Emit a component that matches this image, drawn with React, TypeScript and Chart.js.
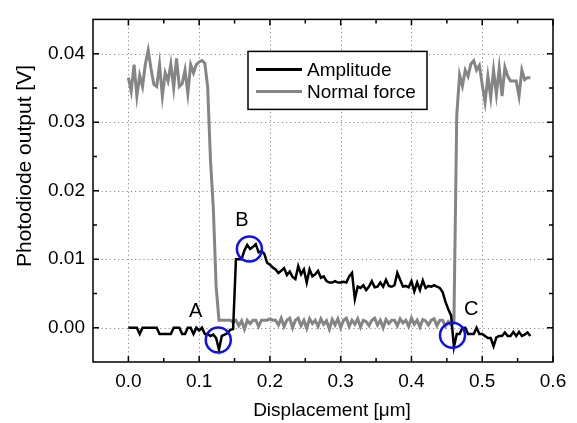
import React, { useEffect, useRef } from "react";
import { Chart, registerables } from "chart.js";
Chart.register(...registerables);

const displacement = [
  0.000, 0.004, 0.008, 0.012, 0.016, 0.020, 0.024, 0.028, 0.032, 0.036,
  0.040, 0.044, 0.048, 0.052, 0.056, 0.060, 0.064, 0.068, 0.072, 0.076,
  0.080, 0.084, 0.088, 0.092, 0.096, 0.100, 0.104, 0.108, 0.112, 0.116,
  0.120, 0.124, 0.128, 0.132, 0.136, 0.140, 0.144, 0.148, 0.152, 0.156,
  0.160, 0.164, 0.168, 0.172, 0.176, 0.180, 0.184, 0.188, 0.192, 0.196,
  0.200, 0.204, 0.208, 0.212, 0.216, 0.220, 0.224, 0.228, 0.232, 0.236,
  0.240, 0.244, 0.248, 0.252, 0.256, 0.260, 0.264, 0.268, 0.272, 0.276,
  0.280, 0.284, 0.288, 0.292, 0.296, 0.300, 0.304, 0.308, 0.312, 0.316,
  0.320, 0.324, 0.328, 0.332, 0.336, 0.340, 0.344, 0.348, 0.352, 0.356,
  0.360, 0.364, 0.368, 0.372, 0.376, 0.380, 0.384, 0.388, 0.392, 0.396,
  0.400, 0.404, 0.408, 0.412, 0.416, 0.420, 0.424, 0.428, 0.432, 0.436,
  0.440, 0.444, 0.448, 0.452, 0.456, 0.460, 0.464, 0.468, 0.472, 0.476,
  0.480, 0.484, 0.488, 0.492, 0.496, 0.500, 0.504, 0.508, 0.512, 0.516,
  0.520, 0.524, 0.528, 0.532, 0.536, 0.540, 0.544, 0.548, 0.552, 0.556,
  0.560, 0.564, 0.568,
];

const amplitude = [
  0, 0, 0, 0, -0.0009, 0, 0, 0, 0, 0,
  0, -0.0009, -0.0009, -0.0009, -0.0009, -0.0009, 0, 0, 0, -0.0009,
  -0.0009, 0, 0, -0.0009, 0, -0.0004, 0, -0.0009, -0.0009, -0.0012,
  -0.0010, -0.0015, -0.0032, -0.0012, -0.0010, -0.0008, -0.0003, -0.0002, 0.0100, 0.0100,
  0.0100, 0.0113, 0.0121, 0.0115, 0.0118, 0.0122, 0.0110, 0.0112, 0.0108, 0.0095,
  0.0092, 0.0088, 0.0085, 0.0080, 0.0083, 0.0087, 0.0077, 0.0082, 0.0074, 0.0071,
  0.0090, 0.0078, 0.0085, 0.0066, 0.0085, 0.0075, 0.0078, 0.0083, 0.0073, 0.0075,
  0.0068, 0.0066, 0.0066, 0.0068, 0.0066, 0.0066, 0.0067, 0.0066, 0.0075, 0.0080,
  0.0042, 0.0060, 0.0058, 0.0062, 0.0055, 0.0060, 0.0068, 0.0059, 0.0060, 0.0066,
  0.0060, 0.0070, 0.0061, 0.0060, 0.0062, 0.0080, 0.0070, 0.0060, 0.0061, 0.0059,
  0.0068, 0.0053, 0.0066, 0.0055, 0.0069, 0.0058, 0.0061, 0.0060, 0.0062, 0.0060,
  0.0058, 0.0052, 0.0038, 0.0027, 0.0018, -0.0028, -0.0009, -0.0009, 0, 0,
  -0.0009, -0.0009, -0.0009, 0, -0.0009, -0.0009, -0.0012, -0.0015, -0.0015, -0.0027,
  -0.0014, -0.0012, -0.0012, -0.0007, -0.0012, -0.0012, -0.0006, -0.0012, -0.0006, -0.0012,
  -0.0010, -0.0007, -0.0012,
];

const normalForce = [
  0.0365, 0.0345, 0.0384, 0.0338, 0.0368, 0.0352, 0.0385, 0.0405, 0.0378, 0.0355,
  0.0352, 0.0384, 0.0338, 0.0372, 0.0360, 0.0385, 0.0350, 0.0393, 0.0352, 0.0356,
  0.0376, 0.0342, 0.0384, 0.0372, 0.0384, 0.0388, 0.0390, 0.0386, 0.0352, 0.0245,
  0.0175, 0.0060, 0.0011, 0.0011, 0.0011, 0.0011, 0.0011, 0.0008, 0.0011, 0.0003,
  0.0010, -0.0002, 0.0011, 0.0006, 0.0011, 0.0011, 0.0002, 0.0011, 0.0011, 0.0011,
  0.0013, 0.0011, 0.0011, 0.0004, 0.0014, 0.0002, 0.0011, 0.0014, 0.0000, 0.0011,
  0.0014, 0.0003, 0.0011, -0.0001, 0.0013, 0.0006, 0.0011, 0.0002, 0.0013, 0.0005,
  0.0010, -0.0002, 0.0012, 0.0004, 0.0013, 0.0000, 0.0011, 0.0014, 0.0002, 0.0011,
  0.0005, 0.0013, 0.0001, 0.0011, 0.0009, 0.0003, 0.0011, 0.0014, 0.0004, 0.0011,
  0.0000, 0.0012, 0.0006, 0.0011, 0.0011, 0.0003, 0.0013, 0.0007, 0.0011, 0.0002,
  0.0014, 0.0005, 0.0011, 0.0001, 0.0012, 0.0010, 0.0004, 0.0011, 0.0013, 0.0003,
  0.0011, 0.0011, 0.0002, 0.0009, 0.0004, 0.0008, 0.0310, 0.0369, 0.0353, 0.0376,
  0.0367, 0.0385, 0.0390, 0.0376, 0.0383, 0.0355, 0.0329, 0.0367, 0.0336, 0.0376,
  0.0341, 0.0379, 0.0338, 0.0380, 0.0367, 0.0360, 0.0360, 0.0360, 0.0338, 0.0376,
  0.0362, 0.0365, 0.0365,
];

const seriesNames = ["Amplitude", "Normal force"];
const xTickValues = [0, 0.1, 0.2, 0.3, 0.4, 0.5, 0.6];
const xTickLabels = ["0.0", "0.1", "0.2", "0.3", "0.4", "0.5", "0.6"];
const yTickValues = [0, 0.01, 0.02, 0.03, 0.04];
const yTickLabels = ["0.00", "0.01", "0.02", "0.03", "0.04"];
const xMinorTicks = [0.05, 0.15, 0.25, 0.35, 0.45, 0.55];
const yMinorTicks = [0.005, 0.015, 0.025, 0.035];

const markerLabels = ["A", "B", "C"];
const markerX = [0.127, 0.171, 0.458];
const markerY = [-0.0018, 0.0115, -0.0011];
const letterX = [0.095, 0.1605, 0.4845];
const letterY = [0.0024, 0.0157, 0.0027];

const FONT = "'Liberation Sans', Arial, sans-serif";
const GRAY = "#858585";

const overlay = {
  id: "overlay",
  beforeDatasetsDraw(chart: any) {
    const { ctx, chartArea: a, scales } = chart;
    const x = scales.x, y = scales.y;
    ctx.save();
    ctx.strokeStyle = "#8a8a8a";
    ctx.lineWidth = 1;
    ctx.setLineDash([1.2, 3]);
    xTickValues.forEach((v) => {
      const px = Math.round(x.getPixelForValue(v)) + 0.5;
      if (px > a.right - 2) return;
      ctx.beginPath();
      ctx.moveTo(px, a.top);
      ctx.lineTo(px, a.bottom);
      ctx.stroke();
    });
    yTickValues.forEach((v) => {
      const py = Math.round(y.getPixelForValue(v)) + 0.5;
      ctx.beginPath();
      ctx.moveTo(a.left, py);
      ctx.lineTo(a.right, py);
      ctx.stroke();
    });
    ctx.restore();
  },
  afterDraw(chart: any) {
    const { ctx, chartArea: a, scales } = chart;
    const x = scales.x, y = scales.y;
    ctx.save();
    ctx.setLineDash([]);
    ctx.strokeStyle = "#000";
    ctx.lineWidth = 1.5;
    const tick = (px: number, len: number) => {
      ctx.beginPath();
      ctx.moveTo(px, a.bottom);
      ctx.lineTo(px, a.bottom - len);
      ctx.moveTo(px, a.top);
      ctx.lineTo(px, a.top + len);
      ctx.stroke();
    };
    const ytick = (py: number, len: number) => {
      ctx.beginPath();
      ctx.moveTo(a.left, py);
      ctx.lineTo(a.left + len, py);
      ctx.moveTo(a.right, py);
      ctx.lineTo(a.right - len, py);
      ctx.stroke();
    };
    xTickValues.forEach((v) => tick(x.getPixelForValue(v), 6));
    xMinorTicks.forEach((v) => tick(x.getPixelForValue(v), 4));
    yTickValues.forEach((v) => ytick(y.getPixelForValue(v), 6));
    yMinorTicks.forEach((v) => ytick(y.getPixelForValue(v), 4));
    ctx.strokeRect(a.left, a.top, a.right - a.left, a.bottom - a.top);

    // circles
    ctx.strokeStyle = "#1010f0";
    ctx.lineWidth = 2.5;
    markerX.forEach((mx, i) => {
      ctx.beginPath();
      ctx.arc(x.getPixelForValue(mx), y.getPixelForValue(markerY[i]), 12.5, 0, Math.PI * 2);
      ctx.stroke();
    });
    // letters
    ctx.fillStyle = "#000";
    ctx.font = `20px ${FONT}`;
    ctx.textAlign = "center";
    ctx.textBaseline = "middle";
    markerLabels.forEach((t, i) => {
      ctx.fillText(t, x.getPixelForValue(letterX[i]), y.getPixelForValue(letterY[i]));
    });

    // legend
    const lx = a.left + 155, ly = a.top + 32, lw = 179, lh = 58;
    ctx.fillStyle = "#fff";
    ctx.fillRect(lx, ly, lw, lh);
    ctx.strokeStyle = "#000";
    ctx.lineWidth = 1.5;
    ctx.strokeRect(lx, ly, lw, lh);
    const colors = ["#000", GRAY];
    ctx.font = `19px ${FONT}`;
    ctx.textAlign = "left";
    seriesNames.forEach((n, i) => {
      const cy = ly + 18 + i * 22;
      ctx.strokeStyle = colors[i];
      ctx.lineWidth = 3;
      ctx.beginPath();
      ctx.moveTo(lx + 8, cy);
      ctx.lineTo(lx + 54, cy);
      ctx.stroke();
      ctx.fillStyle = "#000";
      ctx.fillText(n, lx + 59, cy + 1);
    });

    // axis titles
    ctx.textAlign = "center";
    ctx.textBaseline = "middle";
    ctx.font = `19px ${FONT}`;
    ctx.fillText("Displacement [\u03bcm]", 332, 411);
    ctx.font = `21px ${FONT}`;
    ctx.translate(25, 166);
    ctx.rotate(-Math.PI / 2);
    ctx.fillText("Photodiode output [V]", 0, 0);
    ctx.restore();
  },
};

export default function App() {
  const ref = useRef<HTMLCanvasElement>(null);
  useEffect(() => {
    document.body.style.margin = "0";
    const tickFont = { family: FONT, size: 19 };
    const chart = new Chart(ref.current!, {
      type: "line",
      data: {
        datasets: [
          {
            label: seriesNames[0],
            data: displacement.map((d, i) => ({ x: d, y: amplitude[i] })),
            borderColor: "#000",
            borderWidth: 2.5,
            pointRadius: 0,
            tension: 0,
          },
          {
            label: seriesNames[1],
            data: displacement.map((d, i) => ({ x: d, y: normalForce[i] })),
            borderColor: GRAY,
            borderWidth: 3,
            pointRadius: 0,
            tension: 0,
          },
        ],
      },
      options: {
        animation: false,
        responsive: false,
        devicePixelRatio: 1,
        layout: { padding: { top: 8, right: 24, left: 0, bottom: 0 } },
        plugins: { legend: { display: false }, tooltip: { enabled: false } },
        scales: {
          x: {
            type: "linear",
            min: -0.05,
            max: 0.6,
            afterBuildTicks: (s: any) => {
              s.ticks = xTickValues.map((v) => ({ value: v }));
            },
            afterFit: (s: any) => {
              s.height = 61;
            },
            ticks: {
              callback: (_v: any, i: number) => xTickLabels[i],
              font: tickFont,
              color: "#000",
              padding: 8,
              maxRotation: 0,
              autoSkip: false,
            },
            grid: { display: false, drawTicks: false },
            border: { display: false },
          },
          y: {
            type: "linear",
            min: -0.005,
            max: 0.045,
            afterBuildTicks: (s: any) => {
              s.ticks = yTickValues.map((v) => ({ value: v }));
            },
            afterFit: (s: any) => {
              s.width = 93;
            },
            ticks: {
              callback: (_v: any, i: number) => yTickLabels[i],
              font: tickFont,
              color: "#000",
              padding: 8,
              autoSkip: false,
            },
            grid: { display: false, drawTicks: false },
            border: { display: false },
          },
        },
      },
      plugins: [overlay],
    } as any);
    return () => chart.destroy();
  }, []);
  return (
    <canvas
      ref={ref}
      width={577}
      height={423}
      style={{ display: "block", width: 577, height: 423 }}
    />
  );
}
